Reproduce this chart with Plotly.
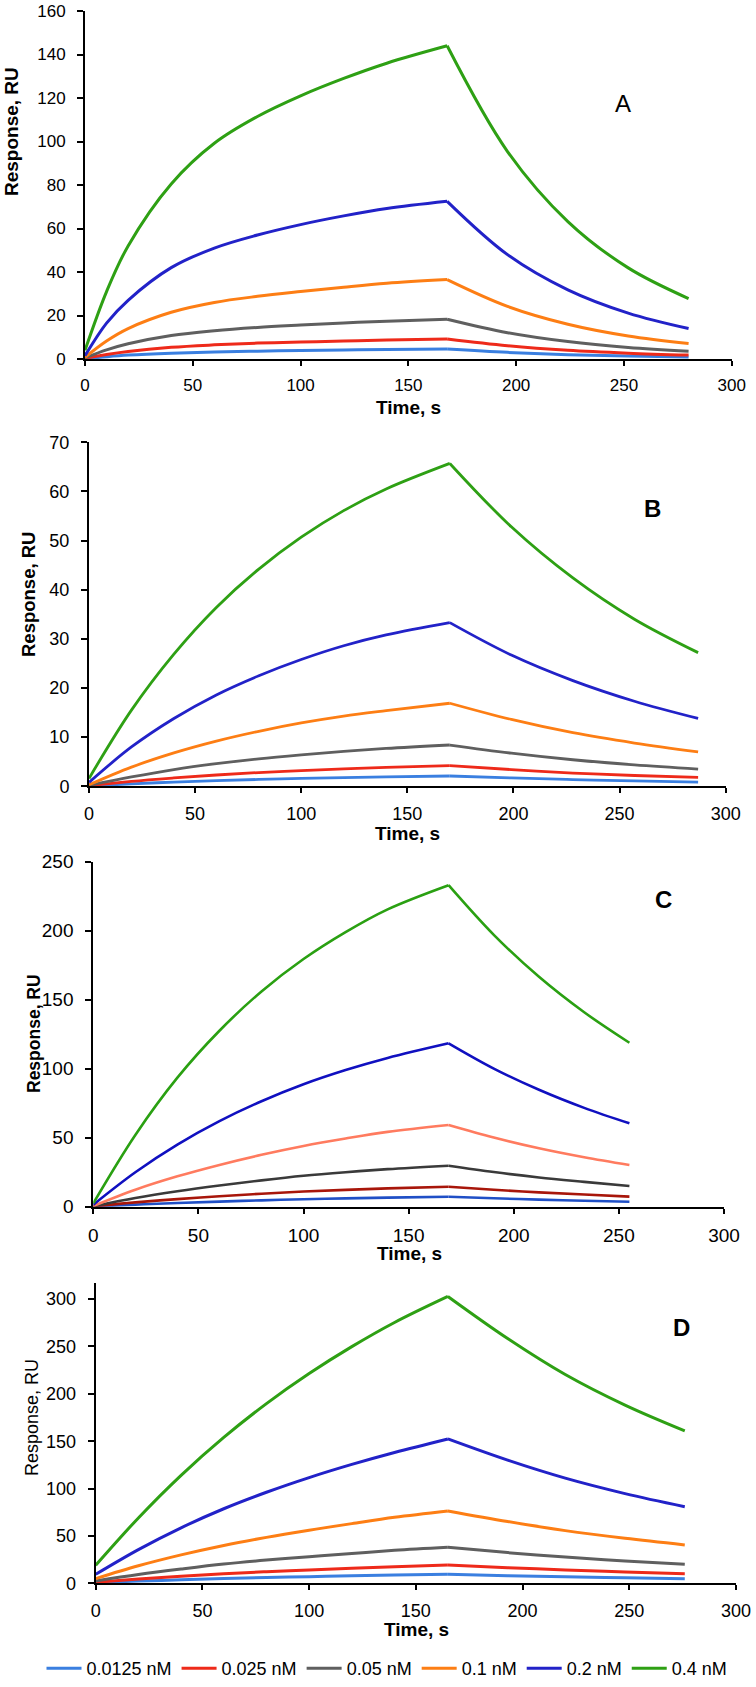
import plotly.graph_objects as go

W, H = 756, 1687

labels = ["0.0125 nM", "0.025 nM", "0.05 nM", "0.1 nM", "0.2 nM", "0.4 nM"]
colors_std = ["#3a7fe0", "#ee2a1a", "#5f5f5f", "#fd7e14", "#2222c8", "#2ea014"]
colors_c = ["#1f4fc6", "#a8160a", "#3a3a3a", "#ff7b5f", "#1010c0", "#2aa012"]

# ---------------- Panel A ----------------
a_assoc_t = [0, 10, 20, 40, 60, 80, 100, 120, 140, 168]
a_dissoc_t = [168, 196, 224, 252, 280]
a_assoc = [
    [0.1, 1.05, 1.8, 2.7, 3.25, 3.6, 3.9, 4.15, 4.35, 4.6],
    [0.3, 2.1, 3.5, 5.4, 6.5, 7.3, 7.8, 8.3, 8.7, 9.2],
    [0.5, 4.2, 7.0, 10.8, 13.0, 14.5, 15.6, 16.6, 17.4, 18.3],
    [0.8, 8.3, 14.0, 21.5, 26.0, 28.8, 31.0, 33.0, 34.8, 36.5],
    [1.5, 16.5, 27.0, 42.0, 51.0, 57.0, 61.8, 65.8, 69.2, 72.5],
    [4.0, 31.0, 52.0, 80.5, 99.2, 111.5, 121.0, 129.0, 136.0, 144.0],
]
a_dissoc = [
    [4.6, 3.05, 2.0, 1.35, 0.95],
    [9.2, 6.1, 4.0, 2.7, 1.8],
    [18.3, 12.1, 8.0, 5.3, 3.6],
    [36.5, 24.2, 16.0, 10.6, 7.1],
    [72.5, 48.0, 31.8, 21.1, 14.0],
    [144.0, 95.4, 63.2, 41.9, 27.8],
]

# ---------------- Panel B ----------------
b_assoc_t = [0, 20, 40, 60, 80, 100, 120, 140, 170]
b_dissoc_t = [170, 199, 228, 257, 287]
b_assoc = [
    [0.05, 0.5, 0.85, 1.15, 1.4, 1.6, 1.78, 1.93, 2.1],
    [0.1, 1.0, 1.7, 2.3, 2.8, 3.2, 3.55, 3.85, 4.2],
    [0.2, 1.9, 3.4, 4.6, 5.6, 6.4, 7.1, 7.7, 8.4],
    [0.3, 3.9, 6.8, 9.2, 11.2, 12.9, 14.3, 15.4, 16.9],
    [0.8, 8.0, 13.8, 18.6, 22.5, 25.8, 28.6, 30.8, 33.3],
    [1.6, 15.5, 26.9, 36.4, 44.2, 50.7, 56.1, 60.5, 65.7],
]
b_dissoc = [
    [2.1, 1.7, 1.37, 1.1, 0.85],
    [4.2, 3.4, 2.7, 2.2, 1.8],
    [8.4, 6.75, 5.4, 4.35, 3.5],
    [16.9, 13.6, 10.9, 8.8, 7.0],
    [33.3, 26.7, 21.5, 17.3, 13.8],
    [65.7, 52.8, 42.4, 34.0, 27.2],
]

# ---------------- Panel C ----------------
c_assoc_t = [0, 20, 40, 60, 80, 100, 120, 140, 169]
c_dissoc_t = [169, 190.5, 212, 233.5, 255]
c_assoc = [
    [0.1, 1.5, 2.7, 3.7, 4.6, 5.4, 6.0, 6.6, 7.2],
    [0.2, 3.1, 5.5, 7.6, 9.4, 11.0, 12.2, 13.3, 14.5],
    [0.3, 6.3, 11.2, 15.4, 19.1, 22.4, 25.0, 27.2, 29.7],
    [0.5, 12.3, 22.0, 30.3, 37.6, 44.0, 49.4, 54.2, 59.2],
    [1.5, 25.0, 45.0, 62.0, 76.4, 88.7, 99.0, 107.8, 118.4],
    [2.5, 52.0, 93.5, 127.5, 156.0, 179.5, 199.0, 215.5, 233.0],
]
c_dissoc = [
    [7.2, 6.1, 5.15, 4.35, 3.6],
    [14.5, 12.3, 10.4, 8.8, 7.3],
    [29.7, 25.1, 21.2, 18.0, 15.0],
    [59.2, 50.1, 42.3, 35.8, 30.2],
    [118.4, 100.1, 84.7, 71.6, 60.4],
    [233.0, 197.0, 166.6, 140.9, 118.8],
]

# ---------------- Panel D ----------------
d_assoc_t = [0, 20, 40, 60, 80, 100, 120, 140, 165]
d_dissoc_t = [165, 193, 220, 248, 276]
d_assoc = [
    [0.6, 2.3, 3.7, 5.0, 6.1, 7.0, 7.9, 8.7, 9.5],
    [1.2, 4.6, 7.5, 10.2, 12.3, 14.1, 15.9, 17.5, 19.3],
    [2.5, 9.2, 15.0, 20.3, 24.5, 28.0, 31.5, 34.8, 38.0],
    [5.0, 18.5, 30.0, 40.0, 48.5, 56.0, 63.0, 69.7, 76.4],
    [9.5, 35.6, 58.6, 78.7, 96.1, 111.6, 125.5, 138.1, 152.4],
    [19.0, 69.0, 114.0, 154.0, 189.7, 221.4, 249.8, 275.3, 302.8],
]
d_dissoc = [
    [9.5, 8.1, 6.9, 5.8, 4.8],
    [19.3, 16.5, 14.1, 12.0, 10.0],
    [38.0, 32.4, 27.7, 23.6, 20.0],
    [76.4, 65.2, 55.6, 47.5, 40.5],
    [152.4, 130.0, 111.0, 94.7, 80.9],
    [302.8, 258.4, 220.4, 188.1, 160.9],
]

panel_letters = ["A", "B", "C", "D"]
x_ticks = [0, 50, 100, 150, 200, 250, 300]
y_ranges = [[0, 160], [0, 70], [0, 250], [0, 317]]
y_dticks = [20, 10, 50, 50]

# ---------------- layout geometry (pixels) ----------------
# (x_left, x_right, y_top, y_bottom) of each plot area
boxes = [
    (85.0, 731.7, 11.0, 359.0),
    (89.0, 725.7, 442.3, 786.3),
    (93.3, 724.0, 861.7, 1206.7),
    (95.7, 736.0, 1283.0, 1583.3),
]
line_widths = [3.0, 2.8, 2.6, 3.0]
tick_sizes = [17, 18, 19, 18]
ytitle_pos = [(12, 132, True, 19), (28, 595, True, 18.5), (34, 1034, True, 17.5), (32, 1418, False, 18)]
xtitle_pos = [(408, 407), (407, 833), (409, 1253), (416, 1629)]
letter_pos = [(623, 103, False), (652, 508, True), (663, 899, True), (681, 1327, True)]

FONT = "Arial, 'Liberation Sans', Helvetica, sans-serif"


def px_x(v):
    return v / W


def px_y(v):
    return 1 - v / H


panels = [
    (a_assoc_t, a_assoc, a_dissoc_t, a_dissoc, colors_std),
    (b_assoc_t, b_assoc, b_dissoc_t, b_dissoc, colors_std),
    (c_assoc_t, c_assoc, c_dissoc_t, c_dissoc, colors_c),
    (d_assoc_t, d_assoc, d_dissoc_t, d_dissoc, colors_std),
]

fig = go.Figure()

for p, (at, av, dt, dv, cols) in enumerate(panels):
    xa = "x" if p == 0 else f"x{p+1}"
    ya = "y" if p == 0 else f"y{p+1}"
    for s in range(6):
        fig.add_trace(go.Scatter(
            x=at, y=av[s], mode="lines", xaxis=xa, yaxis=ya,
            line=dict(color=cols[s], width=line_widths[p], shape="spline", smoothing=1.0),
            name=labels[s], legendgroup=labels[s], showlegend=(p == 0),
            hoverinfo="skip",
        ))
        fig.add_trace(go.Scatter(
            x=dt, y=dv[s], mode="lines", xaxis=xa, yaxis=ya,
            line=dict(color=cols[s], width=line_widths[p], shape="spline", smoothing=1.0),
            name=labels[s], legendgroup=labels[s], showlegend=False,
            hoverinfo="skip",
        ))

layout = dict(
    width=W, height=H,
    margin=dict(l=0, r=0, t=0, b=0, autoexpand=False),
    paper_bgcolor="white", plot_bgcolor="white",
    font=dict(family=FONT, color="black"),
    showlegend=True,
    legend=dict(
        orientation="h", x=387 / W, xanchor="center",
        y=0.0, yanchor="bottom",
        font=dict(family=FONT, size=18, color="black"),
        traceorder="normal", itemwidth=35, bgcolor="rgba(0,0,0,0)",
    ),
)

annotations = []
for p in range(4):
    xl, xr, yt, yb = boxes[p]
    n = p + 1
    xkey = "xaxis" if p == 0 else f"xaxis{n}"
    ykey = "yaxis" if p == 0 else f"yaxis{n}"
    xref = "y" if p == 0 else f"y{n}"
    yref = "x" if p == 0 else f"x{n}"
    common_tick = dict(family=FONT, size=tick_sizes[p], color="black")
    layout[xkey] = dict(
        domain=[px_x(xl), px_x(xr)], range=[0, 300], anchor=xref,
        tickmode="array", tickvals=x_ticks, ticks="outside", ticklen=5, tickwidth=2,
        tickcolor="black", showline=True, linecolor="black", linewidth=2,
        showgrid=False, zeroline=False, tickfont=common_tick, ticklabelstandoff=5,
        fixedrange=True, automargin=False,
    )
    ymin, ymax = y_ranges[p]
    layout[ykey] = dict(
        domain=[px_y(yb), px_y(yt)], range=[ymin, ymax], anchor=yref,
        tick0=0, dtick=y_dticks[p], ticks="outside", ticklen=6, tickwidth=2,
        tickcolor="black", showline=True, linecolor="black", linewidth=2,
        showgrid=False, zeroline=False, tickfont=common_tick, ticklabelstandoff=8,
        fixedrange=True, automargin=False,
    )
    # overlay axes to make ticks cross the axis lines
    m = p + 5
    layout[f"xaxis{m}"] = dict(
        domain=[px_x(xl), px_x(xr)], range=[0, 300], anchor=xref,
        overlaying="x" if p == 0 else f"x{n}",
        tickmode="array", tickvals=x_ticks, ticks="inside", ticklen=5, tickwidth=2,
        tickcolor="black", showline=False, showgrid=False, zeroline=False,
        showticklabels=False, fixedrange=True,
    )
    layout[f"yaxis{m}"] = dict(
        domain=[px_y(yb), px_y(yt)], range=[ymin, ymax], anchor=yref,
        overlaying="y" if p == 0 else f"y{n}",
        tick0=0, dtick=y_dticks[p], ticks="inside", ticklen=5, tickwidth=2,
        tickcolor="black", showline=False, showgrid=False, zeroline=False,
        showticklabels=False, fixedrange=True,
    )

    tx, ty, bold, tsz = ytitle_pos[p]
    annotations.append(dict(
        text="<b>Response, RU</b>" if bold else "Response, RU",
        x=px_x(tx), y=px_y(ty), xref="paper", yref="paper",
        xanchor="center", yanchor="middle", textangle=-90, showarrow=False,
        font=dict(family=FONT, size=tsz, color="black"),
    ))
    xx, xy = xtitle_pos[p]
    annotations.append(dict(
        text="<b>Time, s</b>",
        x=px_x(xx), y=px_y(xy), xref="paper", yref="paper",
        xanchor="center", yanchor="middle", showarrow=False,
        font=dict(family=FONT, size=19, color="black"),
    ))
    lx, ly, lb = letter_pos[p]
    annotations.append(dict(
        text=f"<b>{panel_letters[p]}</b>" if lb else panel_letters[p],
        x=px_x(lx), y=px_y(ly), xref="paper", yref="paper",
        xanchor="center", yanchor="middle", showarrow=False,
        font=dict(family=FONT, size=24, color="black"),
    ))

layout["annotations"] = annotations
fig.update_layout(**layout)

fig.write_html(
    "out.html",
    config={"displayModeBar": False, "staticPlot": True},
    post_script="document.body.style.margin='0';document.body.style.overflow='hidden';",
)
